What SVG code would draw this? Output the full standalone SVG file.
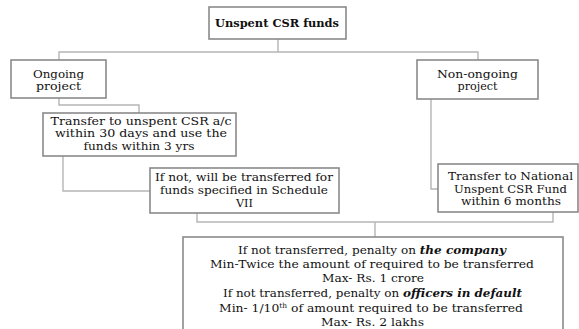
<svg xmlns="http://www.w3.org/2000/svg" width="579" height="329" viewBox="0 0 579 329">
<style>
.box{fill:#fff;stroke:#8a8a8a;stroke-width:1.6}
.conn{fill:none;stroke:#b5b5b5;stroke-width:1.4}
text{font-family:"DejaVu Serif","Liberation Serif",serif;font-size:10.5px;fill:#111;text-anchor:middle}
.b{font-weight:bold;font-size:11.5px}
.bi{font-weight:bold;font-style:italic}
.pen text{font-size:11.5px}
</style>
<rect width="579" height="329" fill="#fff"/>
<g id="connectors">
<path class="conn" d="M278,39 V52 M59,60 V52 H478 V60"/>
<path class="conn" d="M59,98 V105 H139 V113"/>
<path class="conn" d="M63,156 V191 H150"/>
<path class="conn" d="M431,99 V189 H438"/>
<path class="conn" d="M197,213 V222 H553 V212 M375,222 V237"/>
</g>
<g id="root">
<rect class="box" x="209" y="7" width="137" height="32"/>
<text class="b" x="277" y="27" textLength="124" lengthAdjust="spacingAndGlyphs">Unspent CSR funds</text>
</g>
<g id="ongoing">
<rect class="box" x="11" y="60" width="95" height="38"/>
<text x="58.5" y="77.5" textLength="51" lengthAdjust="spacingAndGlyphs">Ongoing</text>
<text x="58.5" y="90" textLength="45" lengthAdjust="spacingAndGlyphs">project</text>
</g>
<g id="nonongoing">
<rect class="box" x="417" y="60" width="121" height="39"/>
<text x="477.5" y="77.5" textLength="81" lengthAdjust="spacingAndGlyphs">Non-ongoing</text>
<text x="477.5" y="90" textLength="40" lengthAdjust="spacingAndGlyphs">project</text>
</g>
<g id="transfer-unspent">
<rect class="box" x="43" y="113" width="193" height="43"/>
<text x="141" y="124.5" textLength="181" lengthAdjust="spacingAndGlyphs">Transfer to unspent CSR a/c</text>
<text x="141" y="137" textLength="172" lengthAdjust="spacingAndGlyphs">within 30 days and use the</text>
<text x="139" y="149.5" textLength="111" lengthAdjust="spacingAndGlyphs">funds within 3 yrs</text>
</g>
<g id="schedule-vii">
<rect class="box" x="150" y="168" width="189" height="45"/>
<text x="244" y="181" textLength="178" lengthAdjust="spacingAndGlyphs">If not, will be transferred for</text>
<text x="244" y="194" textLength="168" lengthAdjust="spacingAndGlyphs">funds specified in Schedule</text>
<text x="244.5" y="207" textLength="17" lengthAdjust="spacingAndGlyphs">VII</text>
</g>
<g id="national-fund">
<rect class="box" x="438" y="164" width="140" height="48"/>
<text x="510.5" y="180" textLength="125" lengthAdjust="spacingAndGlyphs">Transfer to National</text>
<text x="510.5" y="192.5" textLength="113" lengthAdjust="spacingAndGlyphs">Unspent CSR Fund</text>
<text x="511" y="205" textLength="100" lengthAdjust="spacingAndGlyphs">within 6 months</text>
</g>
<g id="penalty" class="pen">
<rect class="box" x="183" y="237" width="380" height="100"/>
<text x="372" y="254" textLength="268" lengthAdjust="spacingAndGlyphs">If not transferred, penalty on <tspan class="bi">the company</tspan></text>
<text x="372" y="268" textLength="324" lengthAdjust="spacingAndGlyphs">Min-Twice the amount of required to be transferred</text>
<text x="373" y="282" textLength="102" lengthAdjust="spacingAndGlyphs">Max- Rs. 1 crore</text>
<text x="372.5" y="297" textLength="299" lengthAdjust="spacingAndGlyphs">If not transferred, penalty on <tspan class="bi">officers in default</tspan></text>
<text x="371" y="312" textLength="304" lengthAdjust="spacingAndGlyphs">Min- 1/10<tspan dy="-4" font-size="7px">th</tspan><tspan dy="4"> of amount required to be transferred</tspan></text>
<text x="372.5" y="326" textLength="103" lengthAdjust="spacingAndGlyphs">Max- Rs. 2 lakhs</text>
</g>
</svg>
